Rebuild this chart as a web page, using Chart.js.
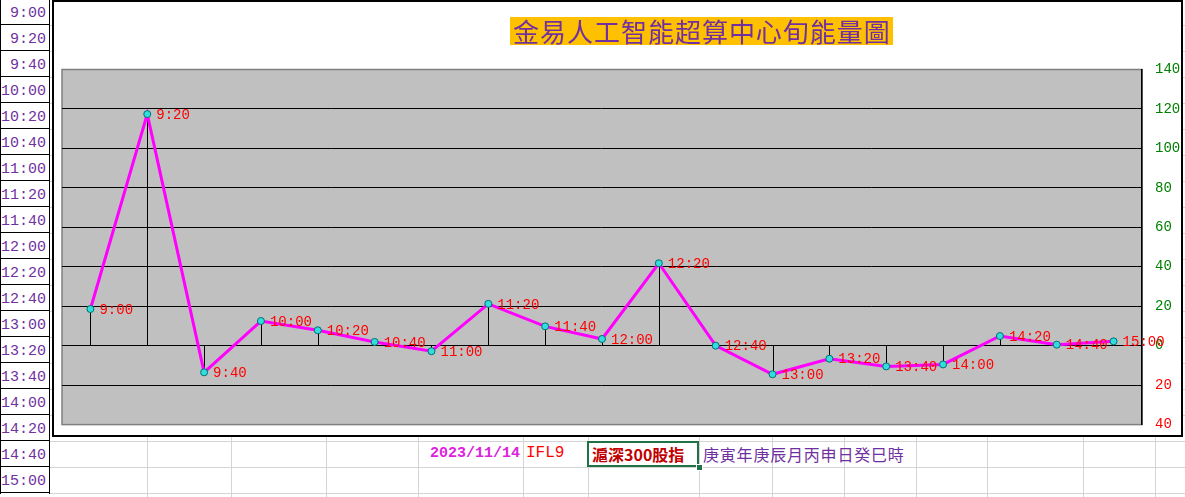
<!DOCTYPE html>
<html>
<head>
<meta charset="utf-8">
<script src="https://cdn.jsdelivr.net/npm/chart.js@4"></script>
<style>
  body { margin: 0; width: 1185px; height: 497px; overflow: hidden; background: #fff; position: relative; }
  .abs { position: absolute; }
  .hline { position: absolute; height: 1px; background: #d4d4d4; }
  .vline { position: absolute; width: 1px; background: #d4d4d4; }
  .rowlbl { position: absolute; left: 1px; width: 45px; height: 23px; border-bottom: 1px solid #000;
            font: 15px "Liberation Mono", monospace; color: #7030A0; text-align: right;
            line-height: 26px; padding-right: 3px; padding-top: 2px; }
  #chartBox { position: absolute; left: 52px; top: 0; width: 1127px; height: 433px;
              border: 2px solid #000; background: #fff; overflow: hidden; }
  #chartBox canvas { display: block; }
  #title { position: absolute; left: 510px; top: 17px; width: 377px; height: 28px; background: #FFC000;
           color: #7030A0; font: 26px "Noto Sans CJK TC", sans-serif; line-height: 28px;
           display: flex; justify-content: space-between; padding: 0 3px; white-space: nowrap; }
</style>
</head>
<body>
<div id="grid"></div>
<div id="rows"></div>
<div id="chartBox"><canvas id="energy" width="1127" height="444"></canvas></div>
<div id="title"></div>

<div class="abs" style="left:587px;top:441px;width:108px;height:22px;border:2px solid #217346;"></div>
<div class="abs" style="left:696px;top:464px;width:5px;height:5px;background:#217346;border:1px solid #fff;"></div>
<div class="abs" style="left:430px;top:445px;font:bold 15px 'Liberation Mono',monospace;color:#DD22DD;">2023/11/14</div>
<div class="abs" style="left:526px;top:444px;font:16px 'Liberation Mono',monospace;color:#FF0000;">IFL9</div>
<div class="abs" style="left:592px;top:442px;font:bold 16px 'Noto Sans CJK TC',sans-serif;color:#C00000;">滬深300股指</div>
<div class="abs" style="left:703px;top:442px;font:16px 'Noto Sans CJK TC',sans-serif;letter-spacing:0.8px;color:#7030A0;">庚寅年庚辰月丙申日癸巳時</div>

<script>
var chartTitle = '金易人工智能超算中心旬能量圖';
// time slots (also the row labels on the left)
var timeSlots = ['9:00', '9:20', '9:40', '10:00', '10:20', '10:40', '11:00', '11:20', '11:40', '12:00',
                 '12:20', '12:40', '13:00', '13:20', '13:40', '14:00', '14:20', '14:40', '15:00'];
// energy per slot
var energyValues = [18.6, 117.4, -13.5, 12.5, 7.8, 1.9, -2.8, 21.2, 9.8, 3.4,
                    41.8, 0.0, -14.5, -6.6, -10.5, -9.5, 4.9, 0.5, 2.2];
// right axis
var axisMin = -40;
var axisMax = 140;
var axisStep = 20;

// title, one glyph per span so it fills the orange box
var titleBox = document.getElementById('title');
chartTitle.split('').forEach(function (ch) {
    var s = document.createElement('span');
    s.textContent = ch;
    titleBox.appendChild(s);
});

// spreadsheet background
var colLines = [146.7, 230.7, 326, 417.5, 522.8, 587.7, 699, 772, 844, 915.5, 987.3, 1083.3, 1155];
var grid = document.getElementById('grid');
colLines.forEach(function (x) {
    var d = document.createElement('div');
    d.className = 'vline';
    d.style.left = Math.round(x) + 'px'; d.style.top = '0px'; d.style.height = '497px';
    grid.appendChild(d);
});
for (var r = 0; r < 20; r++) {
    var h = document.createElement('div');
    h.className = 'hline';
    h.style.left = '49px'; h.style.width = '1136px'; h.style.top = (25 + 26 * r) + 'px';
    grid.appendChild(h);
}
var rows = document.getElementById('rows');
var leftCol = document.createElement('div');
leftCol.className = 'abs';
leftCol.style.cssText = 'left:0;top:0;width:48px;height:494px;border-left:1px solid #000;border-right:1px solid #000;background:#fff;';
rows.appendChild(leftCol);
timeSlots.forEach(function (t, i) {
    var d = document.createElement('div');
    d.className = 'rowlbl';
    d.style.top = (26 * i - 1) + 'px';
    d.textContent = t;
    rows.appendChild(d);
});

// gray plot area with gray frame
var plotBackground = {
    id: 'plotBackground',
    beforeDraw: function (chart) {
        var a = chart.chartArea, c = chart.ctx;
        c.save();
        c.fillStyle = '#C0C0C0';
        c.fillRect(a.left, a.top, a.right - a.left, a.bottom - a.top);
        c.strokeStyle = '#808080';
        c.lineWidth = 1.5;
        c.strokeRect(a.left, a.top, a.right - a.left, a.bottom - a.top);
        c.restore();
    }
};

// vertical drop lines from each point to zero
var dropLines = {
    id: 'dropLines',
    beforeDatasetsDraw: function (chart) {
        var c = chart.ctx, y0 = chart.scales.y.getPixelForValue(0);
        var meta = chart.getDatasetMeta(0);
        c.save();
        c.strokeStyle = '#000';
        c.lineWidth = 1;
        meta.data.forEach(function (pt) {
            var x = Math.round(pt.x) + 0.5;
            c.beginPath();
            c.moveTo(x, pt.y);
            c.lineTo(x, y0);
            c.stroke();
        });
        c.restore();
    }
};

// time labels next to each point
var pointLabels = {
    id: 'pointLabels',
    afterDatasetsDraw: function (chart) {
        var c = chart.ctx, meta = chart.getDatasetMeta(0);
        c.save();
        c.font = '14px "Liberation Mono", monospace';
        c.fillStyle = '#FF0000';
        c.textAlign = 'left';
        c.textBaseline = 'middle';
        meta.data.forEach(function (pt, i) {
            c.fillText(chart.data.labels[i], pt.x + 9, pt.y + 1);
        });
        c.restore();
    }
};

var ctx = document.getElementById('energy').getContext('2d');
var energyChart = new Chart(ctx, {
    type: 'line',
    data: {
        labels: timeSlots,
        datasets: [{
            data: energyValues,
            borderColor: '#FF00FF',
            borderWidth: 3,
            tension: 0,
            pointRadius: 3.5,
            pointBackgroundColor: '#33DDDD',
            pointBorderColor: '#007070',
            pointBorderWidth: 1
        }]
    },
    options: {
        responsive: false,
        animation: false,
        devicePixelRatio: 1,
        layout: { autoPadding: false, padding: { left: 8, top: 67.5, right: 0, bottom: 0 } },
        plugins: { legend: { display: false }, tooltip: { enabled: false } },
        scales: {
            x: { display: false, offset: true },
            y: {
                position: 'right',
                min: axisMin,
                max: axisMax,
                afterFit: function (s) { s.width = 39; },
                border: { display: true, color: '#000', width: 1.5 },
                grid: {
                    drawTicks: false,
                    lineWidth: 1,
                    color: function (c) {
                        var v = c.tick && c.tick.value;
                        return (v === axisMin || v === axisMax) ? 'rgba(0,0,0,0)' : '#000';
                    }
                },
                ticks: {
                    stepSize: axisStep,
                    padding: 13,
                    font: { family: 'Liberation Mono', size: 14 },
                    color: function (c) { return c.tick.value < 0 ? '#FF0000' : '#008000'; },
                    callback: function (v) { return String(Math.abs(v)); }
                }
            }
        }
    },
    plugins: [plotBackground, dropLines, pointLabels]
});
</script>
</body>
</html>
